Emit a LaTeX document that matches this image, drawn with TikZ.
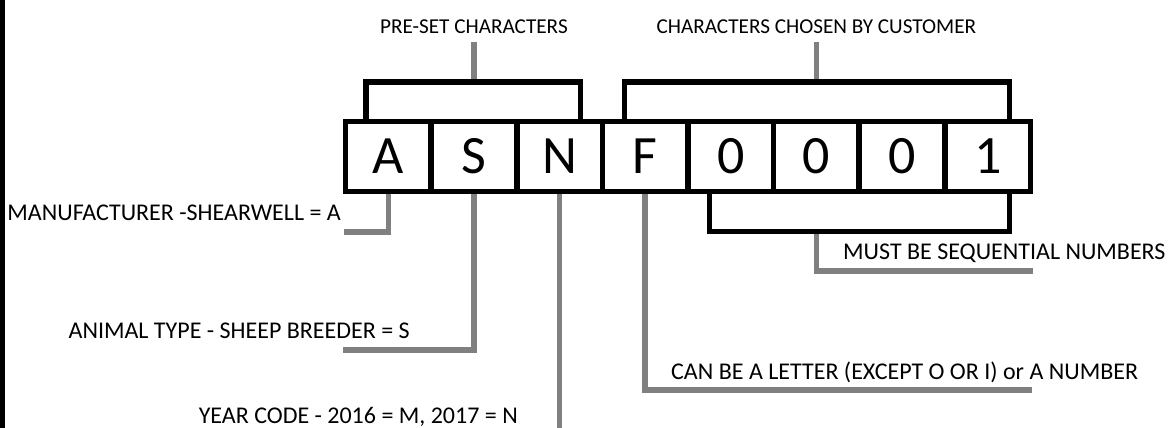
\documentclass[tikz,border=0pt]{standalone}
\usepackage{fontspec}
\setmainfont{Carlito}
\definecolor{lgray}{HTML}{808080}
\begin{document}
\begin{tikzpicture}[x=1pt,y=-1pt,
  cell/.style={draw=black,line width=5.5pt,minimum width=85.625pt,minimum height=70pt,inner sep=0pt,font=\fontsize{54}{60}\selectfont},
  lab/.style={font=\fontsize{24}{28}\selectfont,inner sep=0pt,text=black},
  toplab/.style={font=\fontsize{21.2}{25}\selectfont,inner sep=0pt,text=black},
  gl/.style={draw=lgray,line width=5.5pt,line join=miter},
  bl/.style={draw=black,line width=5.5pt,line join=miter}]
\useasboundingbox (0,0) rectangle (1168,428);
\fill[black] (0,0) rectangle (4.5,428);
% cells
\node[cell] (c1) at (388.3,156.5) {A};
\node[cell] (c2) at (473.9,156.5) {S};
\node[cell] (c3) at (559.6,156.5) {N};
\node[cell] (c4) at (645.2,156.5) {F};
\node[cell] (c5) at (730.8,156.5) {0};
\node[cell] (c6) at (816.4,156.5) {0};
\node[cell] (c7) at (902.1,156.5) {0};
\node[cell] (c8) at (987.7,156.5) {1};
% brackets
\coordinate (pb) at (473.9,79.25);
\coordinate (cb) at (816.4,79.25);
\coordinate (mb) at (816.4,234.25);
\draw[bl] (366,121.5) -- (366,82) -- (580.5,82) -- (580.5,121.5);
\draw[bl] (624.5,121.5) -- (624.5,82) -- (1009.5,82) -- (1009.5,121.5);
\draw[bl] (709.5,191.5) -- (709.5,231.5) -- (1009.5,231.5) -- (1009.5,191.5);
% labels
\node[lab,anchor=base east] (manu) at (341,220) {MANUFACTURER -SHEARWELL = A};
\node[lab,anchor=base east] (anim) at (410,338) {ANIMAL TYPE - SHEEP BREEDER = S};
\node[lab,anchor=base east] (year) at (518,423) {YEAR CODE - 2016 = M, 2017 = N};
\node[lab,anchor=base west] (canbe) at (671,379) {CAN BE A LETTER (EXCEPT O OR I) or A NUMBER};
\node[lab,anchor=base west] (must) at (843,259) {MUST BE SEQUENTIAL NUMBERS};
\node[toplab,anchor=base] (pre) at (473.9,34) {PRE-SET CHARACTERS};
\node[toplab,anchor=base] (chosen) at (816.4,34) {CHARACTERS CHOSEN BY CUSTOMER};
% connector ends
\coordinate (aend) at (344,232);
\coordinate (send) at (343,350);
\coordinate (nend) at (559.6,428);
\coordinate (fend) at (1032,390);
\coordinate (mend) at (1033,271);
% connectors
\draw[gl] (c1.south) |- (aend);
\draw[gl] (c2.south) |- (send);
\draw[gl] (c3.south) -- (nend);
\draw[gl] (c4.south) |- (fend);
\draw[gl] (mb) |- (mend);
\draw[gl] ([yshift=-8pt]pre.base) -- (pb);
\draw[gl] ([yshift=-8pt]chosen.base) -- (cb);
\end{tikzpicture}
\end{document}
